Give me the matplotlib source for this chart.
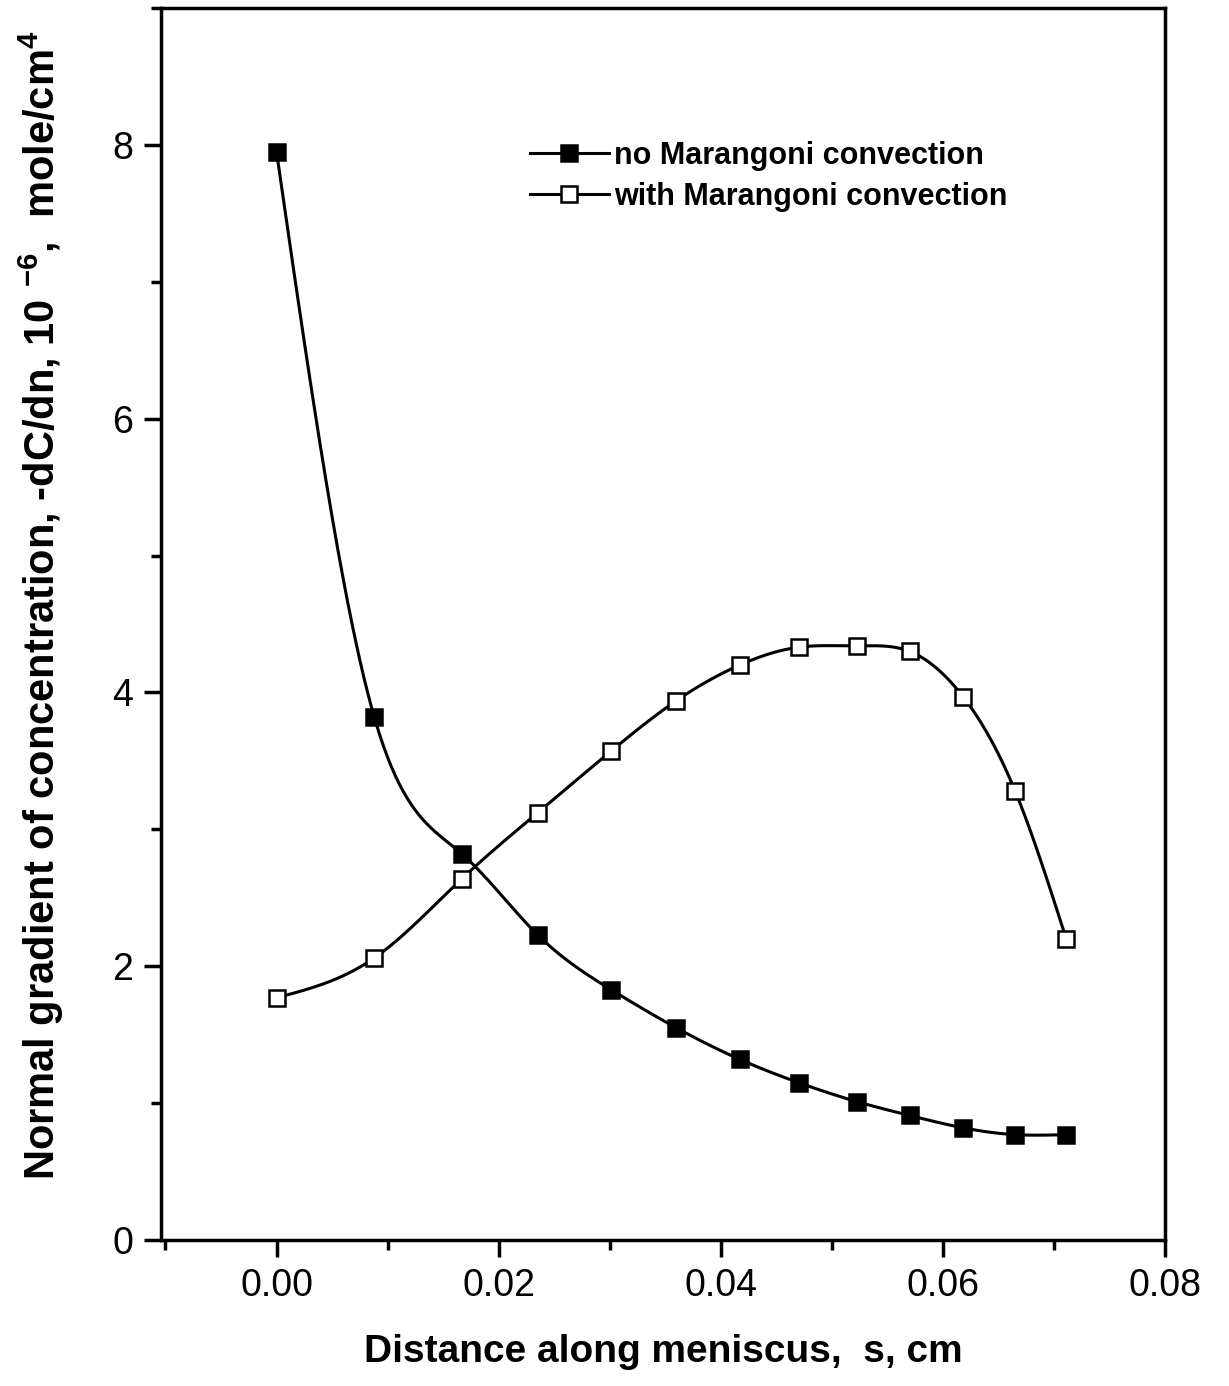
import numpy as np
import matplotlib
matplotlib.use("Agg")
import matplotlib.pyplot as plt
from matplotlib.ticker import MultipleLocator

plt.rcParams['font.family'] = ['Liberation Sans', 'DejaVu Sans']
plt.rcParams['mathtext.fontset'] = 'custom'
plt.rcParams['mathtext.rm'] = 'Liberation Sans:bold'
plt.rcParams['mathtext.it'] = 'Liberation Sans:bold'
plt.rcParams['mathtext.bf'] = 'Liberation Sans:bold'

# ---- data ----
s_no = [0.0, 0.0088, 0.0167, 0.0235, 0.0301, 0.0360, 0.0417, 0.0470,
        0.0523, 0.0570, 0.0618, 0.0665, 0.0711]
g_no = [7.95, 3.82, 2.82, 2.23, 1.83, 1.55, 1.32, 1.15, 1.01, 0.91, 0.82, 0.77, 0.77]

s_with = s_no
g_with = [1.77, 2.06, 2.64, 3.12, 3.57, 3.94, 4.20, 4.33, 4.34, 4.30, 3.97, 3.28, 2.20]

LABEL_NO = 'no Marangoni convection'
LABEL_WITH = 'with Marangoni convection'


def spline(x, y, n=400):
    """natural cubic spline, only for drawing the smooth connecting line"""
    x = np.asarray(x, float)
    y = np.asarray(y, float)
    k = len(x)
    h = np.diff(x)
    A = np.zeros((k, k))
    b = np.zeros(k)
    A[0, 0] = A[-1, -1] = 1
    for i in range(1, k - 1):
        A[i, i - 1] = h[i - 1]
        A[i, i] = 2 * (h[i - 1] + h[i])
        A[i, i + 1] = h[i]
        b[i] = 6 * ((y[i + 1] - y[i]) / h[i] - (y[i] - y[i - 1]) / h[i - 1])
    M = np.linalg.solve(A, b)
    xs = np.linspace(x[0], x[-1], n)
    idx = np.clip(np.searchsorted(x, xs) - 1, 0, k - 2)
    x0, x1 = x[idx], x[idx + 1]
    hh = x1 - x0
    ys = (M[idx] * (x1 - xs) ** 3 / (6 * hh) + M[idx + 1] * (xs - x0) ** 3 / (6 * hh)
          + (y[idx] / hh - M[idx] * hh / 6) * (x1 - xs)
          + (y[idx + 1] / hh - M[idx + 1] * hh / 6) * (xs - x0))
    return xs, ys


fig = plt.figure(figsize=(12.29, 13.86), dpi=100)
ax = fig.add_axes([0.131, 0.1053, 0.817, 0.889])

for xs_, ys_, face, lab in [(s_no, g_no, 'black', LABEL_NO),
                            (s_with, g_with, 'white', LABEL_WITH)]:
    sx, sy = spline(xs_, ys_)
    ax.plot(sx, sy, color='black', lw=2.2, zorder=2)
    ax.plot(xs_, ys_, ls='none', marker='s', ms=12, mfc=face, mec='black',
            mew=1.8, zorder=3)
    ax.plot([], [], color='black', lw=2.2, marker='s', ms=12, mfc=face,
            mec='black', mew=1.8, label=lab)

ax.set_xlim(-0.0104, 0.08)
ax.set_ylim(0, 9)
ax.xaxis.set_minor_locator(MultipleLocator(0.01))
ax.yaxis.set_minor_locator(MultipleLocator(1))
ax.set_xticks([0, 0.02, 0.04, 0.06, 0.08])
ax.set_xticklabels(['0.00', '0.02', '0.04', '0.06', '0.08'])
ax.set_yticks([0, 2, 4, 6, 8])
ax.tick_params(which='major', direction='out', length=12, width=2.5,
               labelsize=27, pad=8)
ax.tick_params(which='minor', direction='out', length=7, width=2.5)
for sp in ax.spines.values():
    sp.set_linewidth(2.5)

ax.set_xlabel('Distance along meniscus,  s, cm', fontsize=28,
              fontweight='bold', labelpad=22)
ax.set_ylabel(r'Normal gradient of concentration, -dC/dn, 10 $^{-6}$,  mole/cm$^4$',
              fontsize=30, fontweight='bold', labelpad=14)
ax.yaxis.set_label_coords(-0.095, 0.515)

leg = ax.legend(loc='upper left', bbox_to_anchor=(0.355, 0.902), frameon=False,
                prop={'weight': 'bold', 'size': 22}, handlelength=2.6,
                handletextpad=0.15, labelspacing=0.35, borderaxespad=0)

fig.savefig('out.png', dpi=100)
